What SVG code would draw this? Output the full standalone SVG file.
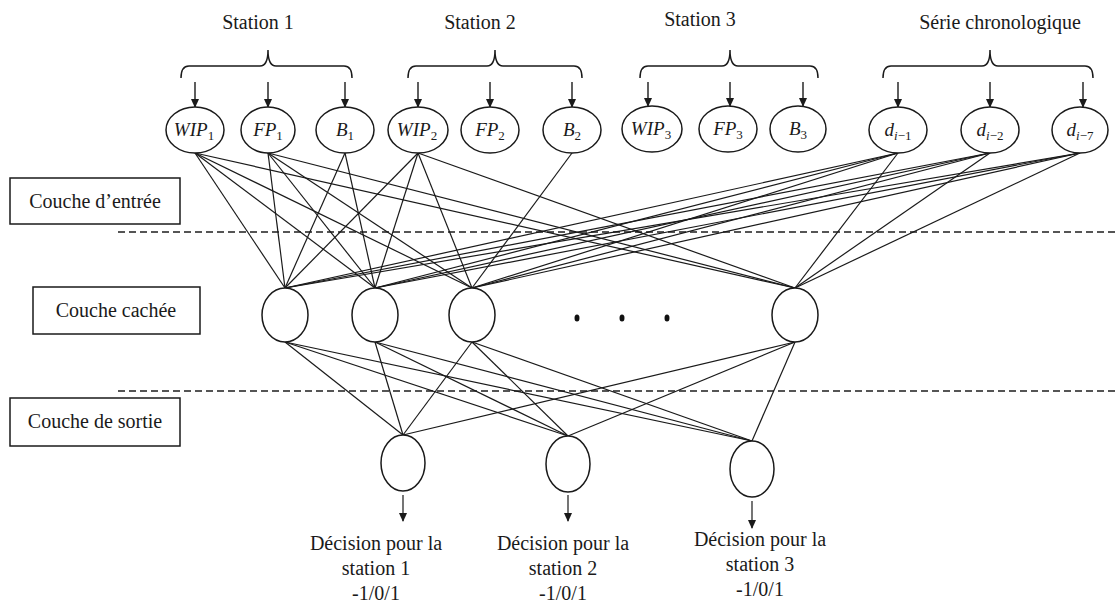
<svg xmlns="http://www.w3.org/2000/svg" width="1118" height="607" viewBox="0 0 1118 607">
<style>
text{font-family:"Liberation Serif","Times New Roman","DejaVu Serif",serif;fill:#1a1a1a}
.t{font-size:20px}
.m{font-size:19px;font-style:italic}
.s{font-size:13px;font-style:normal}
.n{fill:#fff;stroke:#1a1a1a;stroke-width:1.5}
.c line{stroke:#1a1a1a;stroke-width:1.2}
.br{fill:none;stroke:#1a1a1a;stroke-width:1.5}
.ar{stroke:#1a1a1a;stroke-width:1.4}
.box{fill:#fff;stroke:#1a1a1a;stroke-width:1.5}
.dash{stroke:#555;stroke-width:2;stroke-dasharray:7 4}
</style>
<defs>
<marker id="ah" markerWidth="9" markerHeight="9" refX="8" refY="4" orient="auto" markerUnits="userSpaceOnUse">
<path d="M0,0 L9,4 L0,8 z" fill="#1a1a1a"/>
</marker>
</defs>
<rect width="1118" height="607" fill="#fff"/>

<g id="layers">
<line class="dash" x1="118" y1="232" x2="1118" y2="232"/>
<line class="dash" x1="118" y1="391" x2="1118" y2="391"/>
</g>

<g id="labels">
<text class="t" font-family="Liberation Serif, serif" x="258" y="29" text-anchor="middle">Station 1</text>
<text class="t" font-family="Liberation Serif, serif" x="480" y="29" text-anchor="middle">Station 2</text>
<text class="t" font-family="Liberation Serif, serif" x="700" y="26" text-anchor="middle">Station 3</text>
<text class="t" font-family="Liberation Serif, serif" x="1000" y="29" text-anchor="middle">Série chronologique</text>
<path class="br" d="M181,78 Q181,66 189,66 L260,66 Q268,66 268,50 Q268,66 276,66 L344,66 Q352,66 352,78"/>
<path class="br" d="M408,78 Q408,66 416,66 L487,66 Q495,66 495,50 Q495,66 503,66 L574,66 Q582,66 582,78"/>
<path class="br" d="M640,78 Q640,66 648,66 L722,66 Q730,66 730,50 Q730,66 738,66 L810,66 Q818,66 818,78"/>
<path class="br" d="M883,78 Q883,66 891,66 L982,66 Q990,66 990,50 Q990,66 998,66 L1085,66 Q1093,66 1093,78"/>
<g id="in-arrows">
<line class="ar" x1="195" y1="82" x2="195" y2="107" marker-end="url(#ah)"/>
<line class="ar" x1="268" y1="82" x2="268" y2="107" marker-end="url(#ah)"/>
<line class="ar" x1="345" y1="82" x2="345" y2="107" marker-end="url(#ah)"/>
<line class="ar" x1="418" y1="82" x2="418" y2="107" marker-end="url(#ah)"/>
<line class="ar" x1="490" y1="82" x2="490" y2="107" marker-end="url(#ah)"/>
<line class="ar" x1="572" y1="82" x2="572" y2="107" marker-end="url(#ah)"/>
<line class="ar" x1="648" y1="82" x2="648" y2="106" marker-end="url(#ah)"/>
<line class="ar" x1="730" y1="82" x2="730" y2="106" marker-end="url(#ah)"/>
<line class="ar" x1="803" y1="82" x2="803" y2="106" marker-end="url(#ah)"/>
<line class="ar" x1="898" y1="82" x2="898" y2="107" marker-end="url(#ah)"/>
<line class="ar" x1="990" y1="82" x2="990" y2="107" marker-end="url(#ah)"/>
<line class="ar" x1="1083" y1="82" x2="1083" y2="107" marker-end="url(#ah)"/>
</g>
</g>

<g id="connectors" class="c">
<line x1="195" y1="153" x2="285" y2="288"/><line x1="195" y1="153" x2="375" y2="288"/><line x1="195" y1="153" x2="472" y2="288"/><line x1="195" y1="153" x2="795" y2="288"/>
<line x1="268" y1="153" x2="285" y2="288"/><line x1="268" y1="153" x2="375" y2="288"/><line x1="268" y1="153" x2="472" y2="288"/><line x1="268" y1="153" x2="795" y2="288"/>
<line x1="345" y1="153" x2="285" y2="288"/><line x1="345" y1="153" x2="375" y2="288"/>
<line x1="418" y1="153" x2="285" y2="288"/><line x1="418" y1="153" x2="375" y2="288"/><line x1="418" y1="153" x2="472" y2="288"/><line x1="418" y1="153" x2="795" y2="288"/>
<line x1="572" y1="153" x2="472" y2="288"/>
<line x1="898" y1="153" x2="285" y2="288"/><line x1="898" y1="153" x2="375" y2="288"/><line x1="898" y1="153" x2="472" y2="288"/><line x1="898" y1="153" x2="795" y2="288"/>
<line x1="990" y1="153" x2="285" y2="288"/><line x1="990" y1="153" x2="375" y2="288"/><line x1="990" y1="153" x2="472" y2="288"/><line x1="990" y1="153" x2="795" y2="288"/>
<line x1="1080" y1="153" x2="285" y2="288"/><line x1="1080" y1="153" x2="375" y2="288"/><line x1="1080" y1="153" x2="472" y2="288"/><line x1="1080" y1="153" x2="795" y2="288"/>
<line x1="285" y1="342" x2="403" y2="435"/><line x1="285" y1="342" x2="568" y2="436"/><line x1="285" y1="342" x2="752" y2="441"/>
<line x1="375" y1="342" x2="403" y2="435"/><line x1="375" y1="342" x2="568" y2="436"/><line x1="375" y1="342" x2="752" y2="441"/>
<line x1="472" y1="342" x2="403" y2="435"/><line x1="472" y1="342" x2="568" y2="436"/><line x1="472" y1="342" x2="752" y2="441"/>
<line x1="795" y1="342" x2="403" y2="435"/><line x1="795" y1="342" x2="568" y2="436"/><line x1="795" y1="342" x2="752" y2="441"/>
<line class="ar" x1="403" y1="495" x2="403" y2="521" marker-end="url(#ah)"/>
<line class="ar" x1="568" y1="495" x2="568" y2="521" marker-end="url(#ah)"/>
<line class="ar" x1="752" y1="501" x2="752" y2="528" marker-end="url(#ah)"/>
</g>

<g id="in-WIP1"><ellipse class="n" cx="195" cy="130" rx="29" ry="23"/><text class="m" x="194" y="136" text-anchor="middle">WIP<tspan class="s" dy="4">1</tspan></text></g>
<g id="in-FP1"><ellipse class="n" cx="268" cy="130" rx="27" ry="23"/><text class="m" x="268" y="136" text-anchor="middle">FP<tspan class="s" dy="4">1</tspan></text></g>
<g id="in-B1"><ellipse class="n" cx="345" cy="130" rx="29" ry="23"/><text class="m" x="345" y="136" text-anchor="middle">B<tspan class="s" dy="4">1</tspan></text></g>
<g id="in-WIP2"><ellipse class="n" cx="418" cy="130" rx="30" ry="23"/><text class="m" x="417" y="136" text-anchor="middle">WIP<tspan class="s" dy="4">2</tspan></text></g>
<g id="in-FP2"><ellipse class="n" cx="490" cy="130" rx="29" ry="23"/><text class="m" x="490" y="136" text-anchor="middle">FP<tspan class="s" dy="4">2</tspan></text></g>
<g id="in-B2"><ellipse class="n" cx="572" cy="130" rx="29" ry="23"/><text class="m" x="572" y="136" text-anchor="middle">B<tspan class="s" dy="4">2</tspan></text></g>
<g id="in-WIP3"><ellipse class="n" cx="652" cy="129" rx="30" ry="23"/><text class="m" x="651" y="135" text-anchor="middle">WIP<tspan class="s" dy="4">3</tspan></text></g>
<g id="in-FP3"><ellipse class="n" cx="728" cy="129" rx="29" ry="23"/><text class="m" x="728" y="135" text-anchor="middle">FP<tspan class="s" dy="4">3</tspan></text></g>
<g id="in-B3"><ellipse class="n" cx="798" cy="129" rx="28" ry="23"/><text class="m" x="798" y="135" text-anchor="middle">B<tspan class="s" dy="4">3</tspan></text></g>
<g id="in-d1"><ellipse class="n" cx="898" cy="130" rx="29" ry="23"/><text class="m" x="898" y="136" text-anchor="middle">d<tspan class="s" dy="4"><tspan font-style="italic">i</tspan>−1</tspan></text></g>
<g id="in-d2"><ellipse class="n" cx="990" cy="130" rx="29" ry="23"/><text class="m" x="990" y="136" text-anchor="middle">d<tspan class="s" dy="4"><tspan font-style="italic">i</tspan>−2</tspan></text></g>
<g id="in-d7"><ellipse class="n" cx="1080" cy="130" rx="28" ry="23"/><text class="m" x="1080" y="136" text-anchor="middle">d<tspan class="s" dy="4"><tspan font-style="italic">i</tspan>−7</tspan></text></g>

<g id="h1"><ellipse class="n" cx="285" cy="315" rx="23" ry="27"/></g>
<g id="h2"><ellipse class="n" cx="375" cy="315" rx="23" ry="27"/></g>
<g id="h3"><ellipse class="n" cx="472" cy="315" rx="23" ry="27"/></g>
<g id="h-dots">
<ellipse cx="577" cy="318" rx="2.5" ry="3.5" fill="#111"/>
<ellipse cx="622" cy="318" rx="2.5" ry="3.5" fill="#111"/>
<ellipse cx="667" cy="318" rx="2.5" ry="3.5" fill="#111"/>
</g>
<g id="h4"><ellipse class="n" cx="795" cy="315" rx="23" ry="27"/></g>

<g id="o1"><ellipse class="n" cx="403" cy="463" rx="22" ry="28"/>
<text class="t" x="376" y="550" text-anchor="middle">Décision pour la</text>
<text class="t" x="376" y="575" text-anchor="middle">station 1</text>
<text class="t" x="376" y="600" text-anchor="middle">-1/0/1</text></g>
<g id="o2"><ellipse class="n" cx="568" cy="464" rx="22" ry="28"/>
<text class="t" x="563" y="550" text-anchor="middle">Décision pour la</text>
<text class="t" x="563" y="575" text-anchor="middle">station 2</text>
<text class="t" x="563" y="600" text-anchor="middle">-1/0/1</text></g>
<g id="o3"><ellipse class="n" cx="752" cy="469" rx="22" ry="28"/>
<text class="t" x="760" y="546" text-anchor="middle">Décision pour la</text>
<text class="t" x="760" y="571" text-anchor="middle">station 3</text>
<text class="t" x="760" y="596" text-anchor="middle">-1/0/1</text></g>

<g id="box-entree"><rect class="box" x="10" y="178" width="170" height="46"/><text class="t" x="95" y="208" text-anchor="middle">Couche d’entrée</text></g>
<g id="box-cachee"><rect class="box" x="33" y="287" width="167" height="47"/><text class="t" x="116" y="317" text-anchor="middle">Couche cachée</text></g>
<g id="box-sortie"><rect class="box" x="10" y="398" width="170" height="48"/><text class="t" x="95" y="428" text-anchor="middle">Couche de sortie</text></g>
</svg>
